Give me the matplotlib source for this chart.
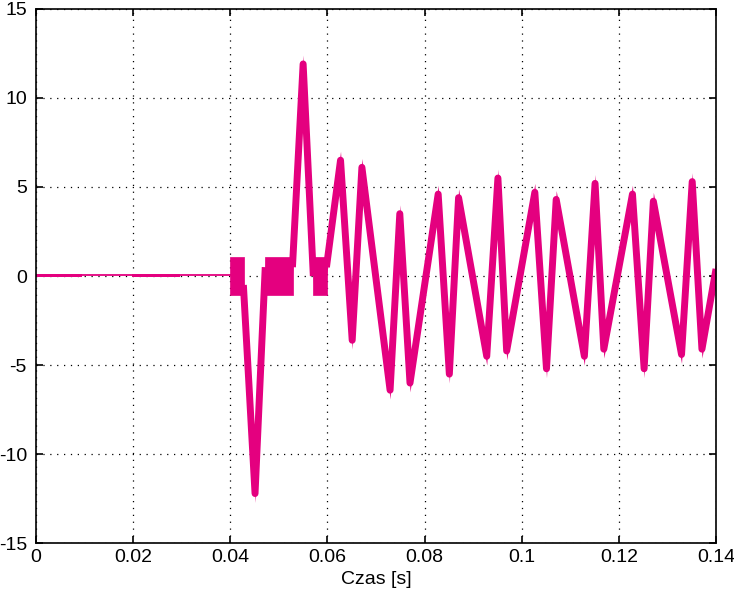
import numpy as np
import matplotlib
matplotlib.use("Agg")
import matplotlib.pyplot as plt

# quiet part before the disturbance
quiet_t = [0.0, 0.0399]
quiet_v = [0.05, 0.05]
# short stretches with a tiny ripple on the quiet part
ripple_start = [0.0, 0.0198]
ripple_end = [0.0095, 0.0296]

# blocks of fast switching around zero
block_start = [0.0399, 0.0471, 0.0570]
block_end = [0.0428, 0.0529, 0.0599]
block_amp = [1.05, 1.05, 1.05]

# transient waveform, centre line, split at the switching blocks
seg1_t = [0.0427, 0.0451, 0.0472]
seg1_v = [-0.5, -12.2, 0.5]
seg2_t = [0.0528, 0.0550, 0.0571]
seg2_v = [0.5, 11.9, 0.0]
seg3_t = [0.0598, 0.0627, 0.0651, 0.0671, 0.0729, 0.0749, 0.0770, 0.0828,
          0.0851, 0.0870, 0.0928, 0.0951, 0.0969, 0.1027, 0.1051, 0.1071,
          0.1129, 0.1151, 0.1169, 0.1228, 0.1252, 0.1271, 0.1329, 0.1351,
          0.1371, 0.1400]
seg3_v = [0.5, 6.5, -3.6, 6.1, -6.4, 3.5, -6.0, 4.6,
          -5.5, 4.4, -4.5, 5.5, -4.2, 4.7, -5.2, 4.3,
          -4.5, 5.2, -4.1, 4.6, -5.2, 4.2, -4.4, 5.3,
          -4.1, 0.4]
wave_ripple = 0.5

xticks = [0, 0.02, 0.04, 0.06, 0.08, 0.1, 0.12, 0.14]
xtick_labels = ["0", "0.02", "0.04", "0.06", "0.08", "0.1", "0.12", "0.14"]
yticks = [-15, -10, -5, 0, 5, 10, 15]

col = "#e4007f"
plt.rcParams['font.family'] = ['Liberation Sans', 'DejaVu Sans']
plt.rcParams['axes.unicode_minus'] = False

fig = plt.figure(figsize=(7.34, 5.99), dpi=100)
ax = fig.add_axes([0.049, 0.0927, 0.9265, 0.8928])
ax.set_axisbelow(True)

# quiet part
ax.plot(quiet_t, quiet_v, color=col, lw=1.3)
for s, e in zip(ripple_start, ripple_end):
    ax.fill_between([s, e], [quiet_v[0] - 0.08] * 2, [quiet_v[0] + 0.08] * 2,
                    color=col, lw=0)

# switching blocks
for s, e, a in zip(block_start, block_end, block_amp):
    ax.fill_between([s, e], [-a, -a], [a, a], facecolor=col, edgecolor=col,
                    lw=0.5, zorder=2)

# transient
for st, sv in [(seg1_t, seg1_v), (seg2_t, seg2_v), (seg3_t, seg3_v)]:
    wt = np.array(st)
    wv = np.array(sv)
    ax.fill_between(wt, wv - wave_ripple, wv + wave_ripple, color=col, lw=0)
    ax.plot(wt, wv, color=col, lw=5, solid_joinstyle='round',
            solid_capstyle='butt')

ax.set_xlim(0, 0.14)
ax.set_ylim(-15, 15)
ax.set_xticks(xticks)
ax.set_xticklabels(xtick_labels)
ax.set_yticks(yticks)
ax.grid(True, color='black', linestyle=(0, (1, 4.5)), lw=0.9)
ax.tick_params(direction='in', length=5, width=1.2, top=True, right=True,
               labelsize=14)
ax.tick_params(axis='x', pad=4.2)
ax.tick_params(axis='y', pad=6.5)
for sp in ax.spines.values():
    sp.set_linewidth(1.2)
    sp.set_zorder(3)
ax.set_xlabel("Czas [s]", fontsize=14, labelpad=3.6)

fig.savefig("out.png", dpi=100)
